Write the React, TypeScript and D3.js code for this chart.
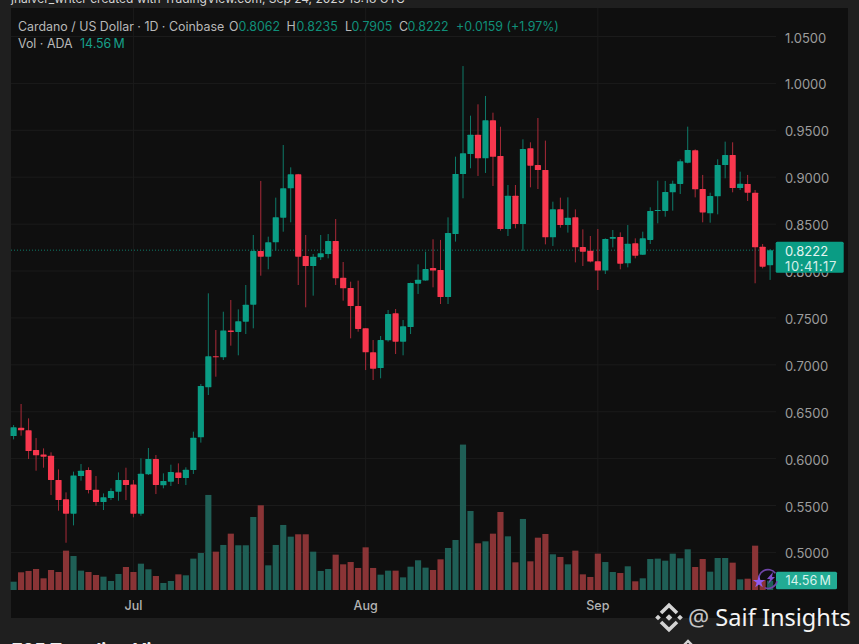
import React, { useEffect, useRef } from 'react';
import * as d3 from 'd3';

const opens = [
  0.6241, 0.6330, 0.6301, 0.6092, 0.6045, 0.6031, 0.5772, 0.5566, 0.5413, 0.5814,
  0.5878, 0.5669, 0.5537, 0.5580, 0.5647, 0.5772, 0.5725, 0.5413, 0.5832, 0.5996,
  0.5715, 0.5754, 0.5853, 0.5793, 0.5878, 0.6227, 0.6760, 0.7090, 0.7080, 0.7367,
  0.7350, 0.7460, 0.7641, 0.8213, 0.8153, 0.8306, 0.8569, 0.8881, 0.9031, 0.8160,
  0.8053, 0.8146, 0.8181, 0.8320, 0.7929, 0.7819, 0.7627, 0.7389, 0.7133, 0.6966,
  0.7261, 0.7549, 0.7247, 0.7403, 0.7865, 0.7900, 0.8032, 0.8011, 0.7723, 0.8394,
  0.9034, 0.9247, 0.9453, 0.9201, 0.9606, 0.9226, 0.8448, 0.8803, 0.8501, 0.9308,
  0.9130, 0.9077, 0.8359, 0.8657, 0.8490, 0.8572, 0.8256, 0.8217, 0.8103, 0.8004,
  0.8345, 0.8363, 0.8082, 0.8295, 0.8174, 0.8331, 0.8640, 0.8640, 0.8839, 0.8928,
  0.9155, 0.9287, 0.8874, 0.8615, 0.8796, 0.9130, 0.9237, 0.8885, 0.8928, 0.8835,
  0.8259, 0.8062,
];

const highs = [
  0.6358, 0.6582, 0.6429, 0.6219, 0.6109, 0.6067, 0.5885, 0.5640, 0.5861, 0.5942,
  0.5907, 0.5814, 0.5629, 0.5683, 0.5853, 0.5903, 0.5772, 0.6003, 0.6113, 0.6038,
  0.5843, 0.5935, 0.5949, 0.5907, 0.6287, 0.6795, 0.7762, 0.7371, 0.7566, 0.7691,
  0.7591, 0.7851, 0.8384, 0.8960, 0.8366, 0.8782, 0.9343, 0.9105, 0.9035, 0.8384,
  0.8181, 0.8384, 0.8394, 0.8554, 0.8096, 0.7886, 0.7897, 0.7389, 0.7264, 0.7307,
  0.7584, 0.7595, 0.7478, 0.7876, 0.8071, 0.8206, 0.8338, 0.8331, 0.8572, 0.9219,
  1.0185, 0.9656, 0.9777, 0.9866, 0.9688, 0.9538, 0.8917, 0.8917, 0.9404, 0.9372,
  0.9631, 0.9390, 0.8739, 0.8782, 0.8785, 0.8657, 0.8444, 0.8373, 0.8448, 0.8348,
  0.8437, 0.8412, 0.8490, 0.8348, 0.8419, 0.8679, 0.8963, 0.8960, 0.8963, 0.9191,
  0.9539, 0.9297, 0.9024, 0.8835, 0.9191, 0.9379, 0.9372, 0.9059, 0.9024, 0.8864,
  0.8288, 0.8235,
];

const lows = [
  0.6205, 0.6244, 0.5996, 0.5871, 0.5903, 0.5612, 0.5445, 0.5103, 0.5288, 0.5765,
  0.5629, 0.5498, 0.5452, 0.5558, 0.5551, 0.5558, 0.5374, 0.5391, 0.5825, 0.5622,
  0.5683, 0.5708, 0.5729, 0.5718, 0.5836, 0.6170, 0.6678, 0.6873, 0.7051, 0.7204,
  0.7101, 0.7328, 0.7389, 0.7950, 0.8018, 0.8217, 0.8419, 0.8519, 0.7851, 0.7613,
  0.7737, 0.8117, 0.8135, 0.7851, 0.7684, 0.7282, 0.7353, 0.6944, 0.6838, 0.6856,
  0.7247, 0.7115, 0.7101, 0.7328, 0.7755, 0.7897, 0.7826, 0.7648, 0.7648, 0.8313,
  0.8775, 0.9095, 0.9013, 0.9045, 0.8906, 0.8430, 0.8373, 0.8455, 0.8213, 0.8892,
  0.8874, 0.8284, 0.8267, 0.8462, 0.8409, 0.8092, 0.8053, 0.8092, 0.7797, 0.7968,
  0.8252, 0.8018, 0.8039, 0.8135, 0.8171, 0.8288, 0.8508, 0.8579, 0.8643, 0.8821,
  0.9148, 0.8785, 0.8519, 0.8515, 0.8604, 0.8988, 0.8839, 0.8864, 0.8746, 0.7869,
  0.8028, 0.7905,
];

const closes = [
  0.6333, 0.6301, 0.6081, 0.6035, 0.6020, 0.5772, 0.5558, 0.5413, 0.5821, 0.5871,
  0.5665, 0.5537, 0.5587, 0.5654, 0.5772, 0.5718, 0.5413, 0.5839, 0.5996, 0.5718,
  0.5761, 0.5857, 0.5793, 0.5882, 0.6223, 0.6774, 0.7090, 0.7080, 0.7367, 0.7350,
  0.7463, 0.7641, 0.8213, 0.8153, 0.8306, 0.8572, 0.8881, 0.9031, 0.8153, 0.8053,
  0.8153, 0.8188, 0.8320, 0.7922, 0.7815, 0.7627, 0.7382, 0.7133, 0.6959, 0.7264,
  0.7542, 0.7247, 0.7410, 0.7872, 0.7908, 0.8021, 0.8004, 0.7723, 0.8405, 0.9034,
  0.9255, 0.9453, 0.9201, 0.9606, 0.9218, 0.8448, 0.8803, 0.8501, 0.9301, 0.9123,
  0.9077, 0.8359, 0.8657, 0.8490, 0.8569, 0.8252, 0.8206, 0.8100, 0.8004, 0.8341,
  0.8363, 0.8078, 0.8291, 0.8163, 0.8348, 0.8640, 0.8650, 0.8842, 0.8931, 0.9169,
  0.9290, 0.8871, 0.8625, 0.8800, 0.9130, 0.9237, 0.8885, 0.8931, 0.8835, 0.8252,
  0.8046, 0.8222,
];

// volume in millions of ADA
const volumes = [
  13.0, 27.7, 29.8, 32.9, 18.3, 31.3, 28.2, 61.6, 53.2, 30.3,
  28.2, 23.5, 20.9, 14.1, 25.1, 36.0, 28.2, 41.2, 32.4, 21.9,
  11.0, 14.1, 24.5, 23.0, 49.1, 57.9, 148.8, 60.0, 70.5, 88.2,
  70.0, 70.0, 114.3, 132.6, 38.6, 70.5, 101.8, 83.5, 87.2, 87.2,
  60.0, 29.8, 32.9, 55.3, 40.2, 43.8, 34.5, 66.8, 34.5, 24.0,
  30.3, 30.3, 19.8, 36.5, 46.5, 35.0, 31.3, 48.0, 65.8, 78.3,
  227.6, 123.7, 73.1, 76.2, 88.2, 122.1, 84.0, 43.3, 111.2, 44.9,
  81.9, 87.7, 55.9, 51.7, 40.2, 61.6, 24.5, 20.4, 56.9, 43.8,
  28.2, 26.6, 37.1, 13.6, 18.3, 48.5, 49.1, 45.9, 56.9, 49.6,
  63.7, 36.0, 48.5, 28.7, 50.1, 50.1, 42.8, 16.7, 17.7, 69.4,
  15.7, 14.56,
];

const priceTicks = [1.05, 1.0, 0.95, 0.9, 0.85, 0.8, 0.75, 0.7, 0.65, 0.6, 0.55, 0.5];
const monthLabels = ['Jul', 'Aug', 'Sep'];
const monthIndices = [16, 47, 78];

const lastPrice = 0.8222;
const countdown = '10:41:17';
const lastVolume = '14.56\u2009M';

const UP = '#0a9c84';
const DOWN = '#f8374e';
const UP_WICK = '#0e7a69';
const DOWN_WICK = '#a92a38';
const UP_VOL = '#1f5f56';
const DOWN_VOL = '#8a3436';
const LEGEND_GREY = '#b8b8b8';
const LEGEND_GREEN = '#0f8f7a';
const FONT = 'Inter, "Noto Sans", sans-serif';

const App: React.FC = () => {
  const svgRef = useRef<SVGSVGElement>(null);

  useEffect(() => {
    if (!svgRef.current) return;
    const svg = d3.select(svgRef.current);
    svg.selectAll('*').remove();

    const width = 859;
    const height = 644;

    const x = d3.scaleBand<number>()
      .domain(d3.range(opens.length))
      .range([9.85, 773.85])
      .paddingInner(0.18)
      .paddingOuter(0.09);
    const cx = (i: number) => (x(i) as number) + x.bandwidth() / 2;

    const y = d3.scaleLinear().domain([0.5, 1.05]).range([552.4, 36.5]);
    const volY = d3.scaleLinear().domain([0, 227.6]).range([590, 444.6]);

    // page and chart panel
    svg.append('rect').attr('width', width).attr('height', height).attr('fill', '#1f1f1f');
    svg.append('rect')
      .attr('x', 11).attr('y', 8).attr('width', 837).attr('height', 610)
      .attr('fill', '#0f0f0f');

    svg.append('text')
      .attr('x', 11).attr('y', 3)
      .attr('fill', '#d6d6d6').attr('font-family', FONT).attr('font-size', 12)
      .text('jnaiver_writer created with TradingView.com, Sep 24, 2025 13:18 UTC');

    // grid
    svg.append('g').selectAll('line')
      .data(priceTicks)
      .join('line')
      .attr('x1', 11).attr('x2', 776)
      .attr('y1', d => y(d)).attr('y2', d => y(d))
      .attr('stroke', '#1b1b1b');

    svg.append('g').selectAll('line')
      .data(monthIndices)
      .join('line')
      .attr('x1', d => cx(d)).attr('x2', d => cx(d))
      .attr('y1', 8).attr('y2', 590)
      .attr('stroke', '#1b1b1b');

    // volume bars sit behind the candles
    svg.append('g').selectAll('rect')
      .data(volumes)
      .join('rect')
      .attr('x', (_, i) => x(i) as number)
      .attr('width', x.bandwidth())
      .attr('y', d => volY(d))
      .attr('height', d => volY(0) - volY(d))
      .attr('fill', (_, i) => (closes[i] >= opens[i] ? UP_VOL : DOWN_VOL));

    // last price dotted line
    svg.append('line')
      .attr('x1', 11).attr('x2', 776)
      .attr('y1', y(lastPrice)).attr('y2', y(lastPrice))
      .attr('stroke', '#0e7a69')
      .attr('stroke-dasharray', '1 2');

    // candles
    const candles = svg.append('g').selectAll('g')
      .data(d3.range(opens.length))
      .join('g');

    candles.append('line')
      .attr('x1', d => cx(d)).attr('x2', d => cx(d))
      .attr('y1', d => y(highs[d])).attr('y2', d => y(lows[d]))
      .attr('stroke', d => (closes[d] >= opens[d] ? UP_WICK : DOWN_WICK))
      .attr('stroke-width', 1);

    candles.append('rect')
      .attr('x', d => x(d) as number)
      .attr('width', x.bandwidth())
      .attr('y', d => y(Math.max(opens[d], closes[d])))
      .attr('height', d => Math.max(1, Math.abs(y(opens[d]) - y(closes[d]))))
      .attr('rx', 0.6)
      .attr('fill', d => (closes[d] >= opens[d] ? UP : DOWN));

    // price axis labels
    svg.append('g').selectAll('text')
      .data(priceTicks)
      .join('text')
      .attr('x', 785)
      .attr('y', d => y(d) + 1.5)
      .attr('dy', '0.35em')
      .attr('fill', '#9c9c9c')
      .attr('font-family', FONT)
      .attr('font-size', 13)
      .text(d => d.toFixed(4));

    // time axis labels
    svg.append('g').selectAll('text')
      .data(monthIndices)
      .join('text')
      .attr('x', d => cx(d))
      .attr('y', 606)
      .attr('dy', '0.35em')
      .attr('text-anchor', 'middle')
      .attr('fill', '#b4b4b4')
      .attr('font-family', FONT)
      .attr('font-size', 12.5)
      .attr('font-weight', 500)
      .text((_, i) => monthLabels[i]);

    // last price tag
    svg.append('rect')
      .attr('x', 775.7).attr('y', y(lastPrice) - 8.5).attr('width', 68).attr('height', 31)
      .attr('rx', 1.5)
      .attr('fill', '#0a9c84');
    svg.append('text')
      .attr('x', 785).attr('y', y(lastPrice) + 6)
      .attr('fill', '#e4f4f0').attr('font-family', FONT).attr('font-size', 13)
      .text(lastPrice.toFixed(4));
    svg.append('text')
      .attr('x', 785).attr('y', y(lastPrice) + 20.5)
      .attr('fill', '#d5efe9').attr('font-family', FONT).attr('font-size', 13)
      .attr('letter-spacing', 0.6)
      .text(countdown);

    // last volume tag
    svg.append('rect')
      .attr('x', 776).attr('y', 571.7).attr('width', 61).attr('height', 17.5)
      .attr('rx', 1.5)
      .attr('fill', '#22ab94');
    svg.append('text')
      .attr('x', 785.5).attr('y', 585)
      .attr('fill', '#d8f3ed').attr('font-family', FONT).attr('font-size', 12.6)
      .text(lastVolume);

    // small purple marker next to the last volume bar
    const marker = svg.append('g').attr('transform', 'translate(768,579)');
    marker.append('path')
      .attr('d', d3.arc()({ innerRadius: 8.6, outerRadius: 10.2, startAngle: -1.9, endAngle: 0.9 }) as string)
      .attr('fill', '#6f45a8');
    marker.append('path')
      .attr('d', d3.arc()({ innerRadius: 8.6, outerRadius: 10.2, startAngle: 1.8, endAngle: 3.5 }) as string)
      .attr('fill', '#6f45a8');
    marker.append('path')
      .attr('d', d3.symbol(d3.symbolStar, 46)() as string)
      .attr('transform', 'translate(-9,3)')
      .attr('fill', '#8f5cf0');
    marker.append('path')
      .attr('d', 'M5,-7 L-1,0 L2,0 L0,5 L7,-2 L4,-2 Z')
      .attr('fill', '#7d4fc9');

    // legend
    const legendParts: [string, string, number][] = [
      ['Cardano / US Dollar · 1D · Coinbase', LEGEND_GREY, 18],
      ['O', LEGEND_GREY, 229], ['0.8062', LEGEND_GREEN, 238.5],
      ['H', LEGEND_GREY, 286.5], ['0.8235', LEGEND_GREEN, 296.5],
      ['L', LEGEND_GREY, 345], ['0.7905', LEGEND_GREEN, 351.5],
      ['C', LEGEND_GREY, 399], ['0.8222', LEGEND_GREEN, 407.5],
      ['+0.0159 (+1.97%)', LEGEND_GREEN, 456],
    ];
    svg.append('g').selectAll('text')
      .data(legendParts)
      .join('text')
      .attr('x', d => d[2])
      .attr('y', 30.5)
      .attr('fill', d => d[1])
      .attr('font-family', FONT)
      .attr('font-size', 12.4)
      .text(d => d[0]);

    svg.append('text')
      .attr('x', 18).attr('y', 48.2)
      .attr('fill', LEGEND_GREY).attr('font-family', FONT).attr('font-size', 12.4)
      .text('Vol · ADA');
    svg.append('text')
      .attr('x', 80).attr('y', 48.2)
      .attr('fill', '#17a08a').attr('font-family', FONT).attr('font-size', 12.4)
      .text(lastVolume);

    // watermark
    const logo = svg.append('g').attr('transform', 'translate(669,617.5)');
    const logoDiamond = d3.symbol(d3.symbolSquare);
    [[-11, 0, 16], [11, 0, 16], [0, 0, 22]].forEach(([dx, dy, s]) => {
      logo.append('path')
        .attr('d', logoDiamond.size(s)() as string)
        .attr('transform', `translate(${dx},${dy}) rotate(45)`)
        .attr('fill', '#d4d4d4');
    });
    logo.append('path')
      .attr('d', 'M-8,-4.5 L0,-12.3 L8,-4.5')
      .attr('fill', 'none').attr('stroke', '#d4d4d4').attr('stroke-width', 3.6);
    logo.append('path')
      .attr('d', 'M-8,4.5 L0,12.3 L8,4.5')
      .attr('fill', 'none').attr('stroke', '#d4d4d4').attr('stroke-width', 3.6);
    // tip of a second logo, cut off by the window
    svg.append('path')
      .attr('d', 'M682,647 L688,641 L694,647')
      .attr('fill', 'none').attr('stroke', '#d4d4d4').attr('stroke-width', 2.4);

    const mark = svg.append('text')
      .attr('x', 688).attr('y', 625.5)
      .attr('font-family', '"Noto Sans", sans-serif')
      .attr('font-size', 23.6)
      .attr('fill', '#f4f4f4');
    mark.append('tspan').attr('fill', '#c4c4c4').text('@ ');
    mark.append('tspan').text('Saif Insights');

    // heading of the page below, cut off by the window
    svg.append('text')
      .attr('x', 12).attr('y', 656)
      .attr('fill', '#f0f0f0').attr('font-family', FONT).attr('font-size', 18).attr('font-weight', 700)
      .text('705 Trending View');
  }, []);

  return (
    <svg
      ref={svgRef}
      width={859}
      height={644}
      style={{ position: 'fixed', left: 0, top: 0, display: 'block' }}
    />
  );
};

export default App;
